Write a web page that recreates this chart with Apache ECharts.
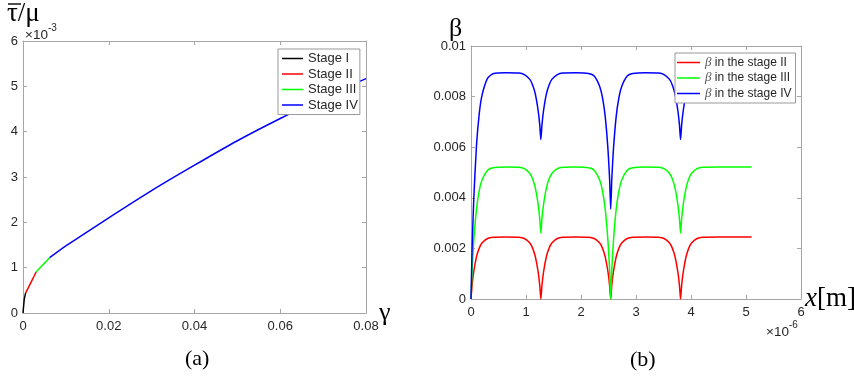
<!DOCTYPE html>
<html>
<head>
<meta charset="utf-8">
<script src="https://cdn.jsdelivr.net/npm/echarts@6/dist/echarts.min.js"></script>
<style>
  html, body { margin: 0; padding: 0; background: #fff; }
  #main { width: 854px; height: 376px; }
</style>
</head>
<body>
<div id="main"></div>
<script>
// (a) mean shear stress (x10^-3) against shear strain gamma
const gammaI = [0, 0.0003, 0.0006];
const tauI = [0, 0.30, 0.44];
const gammaII = [0.0006, 0.0031];
const tauII = [0.44, 0.91];
const gammaIII = [0.0031, 0.0062];
const tauIII = [0.91, 1.22];
const gammaIV = [0.0062, 0.01, 0.02, 0.03, 0.04, 0.05, 0.06, 0.07, 0.08];
const tauIV = [1.22, 1.48, 2.10, 2.70, 3.26, 3.80, 4.29, 4.75, 5.17];

// (b) beta along x (x10^-6 m)
const xPos = [
  0, 0.02, 0.05, 0.1, 0.15, 0.2, 0.3, 0.4, 0.635, 0.87, 0.97, 1.07, 1.12, 1.17, 1.22, 1.25, 1.27,
  1.29, 1.32, 1.37, 1.42, 1.47, 1.57, 1.67, 1.905, 2.14, 2.24, 2.34, 2.39, 2.44, 2.49, 2.52, 2.54,
  2.56, 2.59, 2.64, 2.69, 2.74, 2.84, 2.94, 3.175, 3.41, 3.51, 3.61, 3.66, 3.71, 3.76, 3.79, 3.81,
  3.83, 3.86, 3.91, 3.96, 4.01, 4.11, 4.21, 4.5, 5.1
];
const betaII = [
  0, 0.00054, 0.00108, 0.00167, 0.00201, 0.00221, 0.00239, 0.00244, 0.00245, 0.00244, 0.00239, 0.00221, 0.00201, 0.00167, 0.00108, 0.00054, 0,
  0.00054, 0.00108, 0.00167, 0.00201, 0.00221, 0.00239, 0.00244, 0.00245, 0.00244, 0.00239, 0.00221, 0.00201, 0.00167, 0.00108, 0.00054, 0,
  0.00054, 0.00108, 0.00167, 0.00201, 0.00221, 0.00239, 0.00244, 0.00245, 0.00244, 0.00239, 0.00221, 0.00201, 0.00167, 0.00108, 0.00054, 0,
  0.00054, 0.00108, 0.00167, 0.00201, 0.00221, 0.00239, 0.00244, 0.00245, 0.00245
];
const betaIII = [
  0, 0.00115, 0.0023, 0.00355, 0.00428, 0.0047, 0.00509, 0.00519, 0.00522, 0.00521, 0.00515, 0.00496, 0.00475, 0.00438, 0.00375, 0.00318, 0.0026,
  0.00318, 0.00375, 0.00438, 0.00475, 0.00496, 0.00515, 0.00521, 0.00522, 0.00519, 0.00509, 0.0047, 0.00428, 0.00355, 0.0023, 0.00115, 0,
  0.00115, 0.0023, 0.00355, 0.00428, 0.0047, 0.00509, 0.00519, 0.00522, 0.00521, 0.00515, 0.00496, 0.00475, 0.00438, 0.00375, 0.00318, 0.0026,
  0.00318, 0.00375, 0.00438, 0.00475, 0.00496, 0.00515, 0.00521, 0.00522, 0.00522
];
const betaIV = [
  0, 0.00197, 0.00393, 0.00608, 0.00733, 0.00805, 0.00872, 0.0089, 0.00894, 0.00893, 0.00887, 0.00868, 0.00846, 0.0081, 0.00746, 0.00688, 0.0063,
  0.00688, 0.00746, 0.0081, 0.00846, 0.00868, 0.00887, 0.00893, 0.00894, 0.00891, 0.00881, 0.0084, 0.00797, 0.00722, 0.00593, 0.00474, 0.00356,
  0.00474, 0.00593, 0.00722, 0.00797, 0.0084, 0.00881, 0.00891, 0.00894, 0.00893, 0.00887, 0.00868, 0.00846, 0.0081, 0.00746, 0.00688, 0.0063,
  0.00688, 0.00746, 0.0081, 0.00846, 0.00868, 0.00887, 0.00893, 0.00894, 0.00894
];

const zip = (xs, ys) => xs.map((x, i) => [x, ys[i]]);

const boxColor = '#a6a6a6';
const labelColor = '#262626';
const sans = 'Liberation Sans, Arial, sans-serif';
const serif = 'Liberation Serif, Times New Roman, serif';

// one axis side of a MATLAB style box (ticks inside, labels only on bottom/left)
const side = (kind, grid, min, max, interval, position, labels) => ({
  type: 'value', gridIndex: grid, min: min, max: max, interval: interval, position: position,
  axisLine: { show: true, onZero: false, lineStyle: { color: boxColor, width: 1 } },
  axisTick: { show: true, inside: true, length: 4, lineStyle: { color: boxColor } },
  axisLabel: { show: labels, color: labelColor, fontFamily: sans, fontSize: 13, margin: kind === 'x' ? 7 : 5 },
  splitLine: { show: false }
});

const lineSeries = (name, data, color, xi, yi) => ({
  name: name, type: 'line', data: data, xAxisIndex: xi, yAxisIndex: yi,
  symbol: 'none', smooth: 0.2, clip: true,
  lineStyle: { color: color, width: 1.5 }, itemStyle: { color: color }
});

const superLabel = (power) => ({
  text: '{a|×10}{s|' + power + '}', fill: labelColor,
  rich: {
    a: { fontFamily: sans, fontSize: 13.5, padding: [5, 0, 0, 0] },
    s: { fontFamily: sans, fontSize: 10, verticalAlign: 'top' }
  }
});

const myChart = echarts.init(document.getElementById('main'), null, { renderer: 'canvas' });

const option = {
  animation: false,
  backgroundColor: '#fff',
  grid: [
    { left: 23, top: 41, width: 343, height: 272 },
    { left: 471, top: 46, width: 330, height: 253 }
  ],
  xAxis: [
    side('x', 0, 0, 0.08, 0.02, 'bottom', true),
    side('x', 0, 0, 0.08, 0.02, 'top', false),
    side('x', 1, 0, 6, 1, 'bottom', true),
    side('x', 1, 0, 6, 1, 'top', false)
  ],
  yAxis: [
    side('y', 0, 0, 6, 1, 'left', true),
    side('y', 0, 0, 6, 1, 'right', false),
    side('y', 1, 0, 0.01, 0.002, 'left', true),
    side('y', 1, 0, 0.01, 0.002, 'right', false)
  ],
  legend: [
    {
      data: ['Stage I', 'Stage II', 'Stage III', 'Stage IV'],
      orient: 'vertical', left: 278, top: 49,
      icon: 'rect', itemWidth: 21, itemHeight: 1.5, itemGap: 2.5,
      padding: [3, 2, 3, 4],
      backgroundColor: '#fff', borderColor: '#999', borderWidth: 1, borderRadius: 0,
      textStyle: { fontFamily: sans, fontSize: 13, color: labelColor, lineHeight: 12 },
      z: 10
    },
    {
      data: ['β in the stage II', 'β in the stage III', 'β in the stage IV'],
      orient: 'vertical', left: 675, top: 53,
      icon: 'rect', itemWidth: 23, itemHeight: 1.5, itemGap: 2.5,
      padding: [3, 4, 3, 2],
      backgroundColor: '#fff', borderColor: '#999', borderWidth: 1, borderRadius: 0,
      formatter: name => '{b|β}{t|' + name.slice(1) + '}',
      textStyle: {
        fontFamily: sans, fontSize: 12, color: labelColor, lineHeight: 12,
        rich: {
          b: { fontFamily: serif, fontStyle: 'italic', fontSize: 13, lineHeight: 12, color: '#555' },
          t: { fontFamily: sans, fontSize: 12, lineHeight: 12, color: labelColor }
        }
      },
      z: 10
    }
  ],
  series: [
    lineSeries('Stage I', zip(gammaI, tauI), '#000000', 0, 0),
    lineSeries('Stage II', zip(gammaII, tauII), '#ff0000', 0, 0),
    lineSeries('Stage III', zip(gammaIII, tauIII), '#00ff00', 0, 0),
    lineSeries('Stage IV', zip(gammaIV, tauIV), '#0000ff', 0, 0),
    lineSeries('β in the stage II', zip(xPos, betaII), '#ff0000', 2, 2),
    lineSeries('β in the stage III', zip(xPos, betaIII), '#00ff00', 2, 2),
    lineSeries('β in the stage IV', zip(xPos, betaIV), '#0000ff', 2, 2)
  ],
  graphic: [
    // left panel labels
    { type: 'line', shape: { x1: 8, y1: 4, x2: 21, y2: 4 }, style: { stroke: '#000', lineWidth: 1.4 } },
    { type: 'text', left: 7, top: 0, style: { text: 'τ/μ', font: '27px ' + serif, fill: '#000' } },
    { type: 'text', left: 25, top: 23, style: superLabel('-3') },
    { type: 'text', left: 379, top: 300, style: { text: 'γ', font: '26px ' + serif, fill: '#000' } },
    { type: 'text', left: 185, top: 348, style: { text: '(a)', font: '22px ' + serif, fill: '#000' } },
    // right panel labels
    { type: 'text', left: 449, top: 16, style: { text: 'β', font: '26px ' + serif, fill: '#000' } },
    { type: 'text', left: 805, top: 285, style: {
        text: '{i|x}{r|[m]}', fill: '#000',
        rich: { i: { fontFamily: serif, fontStyle: 'italic', fontSize: 27 }, r: { fontFamily: serif, fontSize: 27 } }
    } },
    { type: 'text', left: 766, top: 320, style: superLabel('-6') },
    { type: 'text', left: 630, top: 349, style: { text: '(b)', font: '22px ' + serif, fill: '#000' } }
  ]
};

myChart.setOption(option);
</script>
</body>
</html>
